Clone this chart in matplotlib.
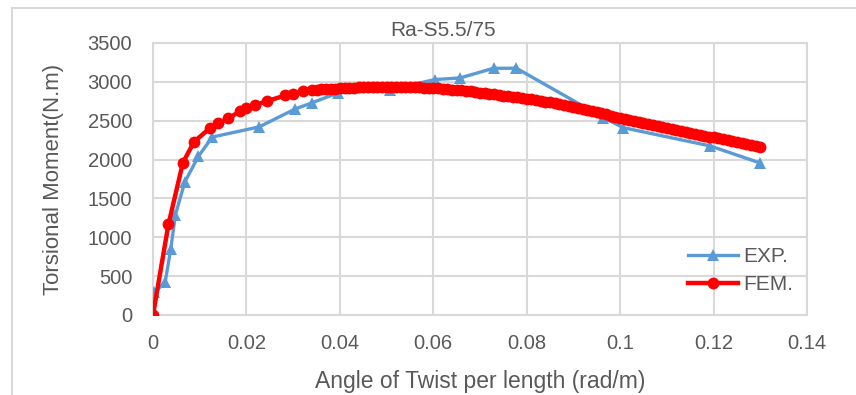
import matplotlib
matplotlib.use("Agg")
import matplotlib.pyplot as plt
from matplotlib.lines import Line2D

plt.rcParams['font.family'] = ['Liberation Sans', 'DejaVu Sans']

title = "Ra-S5.5/75"
x_label = "Angle of Twist per length (rad/m)"
y_label = "Torsional Moment(N.m)"

x_ticks = [0, 0.02, 0.04, 0.06, 0.08, 0.1, 0.12, 0.14]
x_tick_labels = ["0", "0.02", "0.04", "0.06", "0.08", "0.1", "0.12", "0.14"]
y_ticks = [0, 500, 1000, 1500, 2000, 2500, 3000, 3500]

# Experimental curve
exp_twist = [0.0, 0.0003, 0.0026, 0.0038, 0.0048, 0.0068, 0.0097, 0.0127,
             0.0227, 0.0304, 0.0340, 0.0397, 0.0507, 0.0604, 0.0657, 0.0729,
             0.0778, 0.0964, 0.1007, 0.1193, 0.1300]
exp_moment = [0, 290, 420, 850, 1290, 1710, 2040, 2290,
              2420, 2650, 2730, 2860, 2900, 3030, 3050, 3175,
              3175, 2540, 2410, 2175, 1955]

# Finite element curve
fem_twist = [0.0, 0.0033, 0.0064, 0.0088, 0.0122, 0.0140, 0.0161, 0.0186,
             0.0200, 0.0218, 0.0243, 0.0283, 0.0300, 0.0322,
             0.034, 0.035, 0.036, 0.037, 0.038, 0.039, 0.040, 0.041, 0.042,
             0.043, 0.044, 0.045, 0.046, 0.047, 0.048, 0.049, 0.050, 0.051,
             0.052, 0.053, 0.054, 0.055, 0.056, 0.057, 0.058, 0.059, 0.060,
             0.061, 0.062, 0.063, 0.064, 0.065, 0.066, 0.067, 0.068, 0.069,
             0.070, 0.071, 0.072, 0.073, 0.074, 0.075, 0.076, 0.077, 0.078,
             0.079, 0.080, 0.081, 0.082, 0.083, 0.084, 0.085, 0.086, 0.087,
             0.088, 0.089, 0.090, 0.091, 0.092, 0.093, 0.094, 0.095, 0.096,
             0.097, 0.098, 0.099, 0.100, 0.101, 0.102, 0.103, 0.104, 0.105,
             0.106, 0.107, 0.108, 0.109, 0.110, 0.111, 0.112, 0.113, 0.114,
             0.115, 0.116, 0.117, 0.118, 0.119, 0.120, 0.121, 0.122, 0.123,
             0.124, 0.125, 0.126, 0.127, 0.128, 0.129, 0.130]
fem_moment = [0, 1165, 1960, 2230, 2405, 2465, 2530, 2620,
              2660, 2700, 2750, 2825, 2850, 2878,
              2892, 2898, 2902, 2906, 2910, 2914, 2918, 2921, 2924,
              2926, 2928, 2930, 2932, 2933, 2934, 2935, 2935, 2935,
              2935, 2934, 2933, 2932, 2930, 2928, 2926, 2923, 2920,
              2915, 2910, 2905, 2900, 2895, 2889, 2882, 2876, 2869,
              2862, 2855, 2847, 2840, 2832, 2824, 2816, 2808, 2799,
              2791, 2782, 2773, 2764, 2754, 2745, 2735, 2724, 2713,
              2702, 2690, 2678, 2665, 2651, 2637, 2623, 2609, 2595,
              2580, 2566, 2551, 2536, 2522, 2508, 2494, 2480, 2466,
              2452, 2439, 2426, 2413, 2400, 2388, 2376, 2364, 2352,
              2340, 2329, 2318, 2307, 2296, 2286, 2275, 2264, 2252,
              2241, 2229, 2217, 2204, 2192, 2180, 2167]

blue = "#5B9BD5"
red = "#FF0000"
grid_c = "#D9D9D9"
text_c = "#595959"

fig = plt.figure(figsize=(8.56, 3.95), dpi=100)
W, H = 856, 395
ax = fig.add_axes([153 / W, 1 - 315 / H, (807 - 153) / W, (315 - 43) / H])

# outer chart frame (top and left edges visible)
fig.add_artist(Line2D([12 / W, 1.0], [1 - 8 / H, 1 - 8 / H], transform=fig.transFigure,
                      color=grid_c, lw=1.5))
fig.add_artist(Line2D([12 / W, 12 / W], [0, 1 - 8 / H], transform=fig.transFigure,
                      color=grid_c, lw=1.5))

ax.plot(exp_twist, exp_moment, color=blue, lw=2.4, marker='^', ms=8,
        markeredgewidth=0, label="EXP.", zorder=3)
ax.plot(fem_twist, fem_moment, color=red, lw=3.2, marker='o', ms=8.5,
        markeredgewidth=0, label="FEM.", zorder=4)

ax.set_xlim(0, 0.14)
ax.set_ylim(0, 3500)
ax.set_xticks(x_ticks)
ax.set_xticklabels(x_tick_labels)
ax.set_yticks(y_ticks)
ax.grid(True, color=grid_c, lw=1.5)
ax.set_axisbelow(True)
for s in ax.spines.values():
    s.set_color(grid_c)
    s.set_linewidth(1.5)
ax.tick_params(length=0, labelsize=14.5, colors=text_c)
ax.tick_params(axis='y', pad=15)
ax.tick_params(axis='x', pad=14)

ax.set_xlabel(x_label, fontsize=16.5, color=text_c, labelpad=12)
ax.set_ylabel(y_label, fontsize=16, color=text_c, labelpad=17)
fig.text(443 / W, 1 - 31 / H, title, fontsize=15, color=text_c,
         ha='center', va='center')

leg = ax.legend(loc='upper left', bbox_to_anchor=(0.818, 0.25), frameon=False,
                fontsize=15, handlelength=2.4, handletextpad=0.24,
                labelspacing=0.45, borderpad=0, borderaxespad=0,
                labelcolor=text_c)

fig.savefig("out.png", dpi=100)
